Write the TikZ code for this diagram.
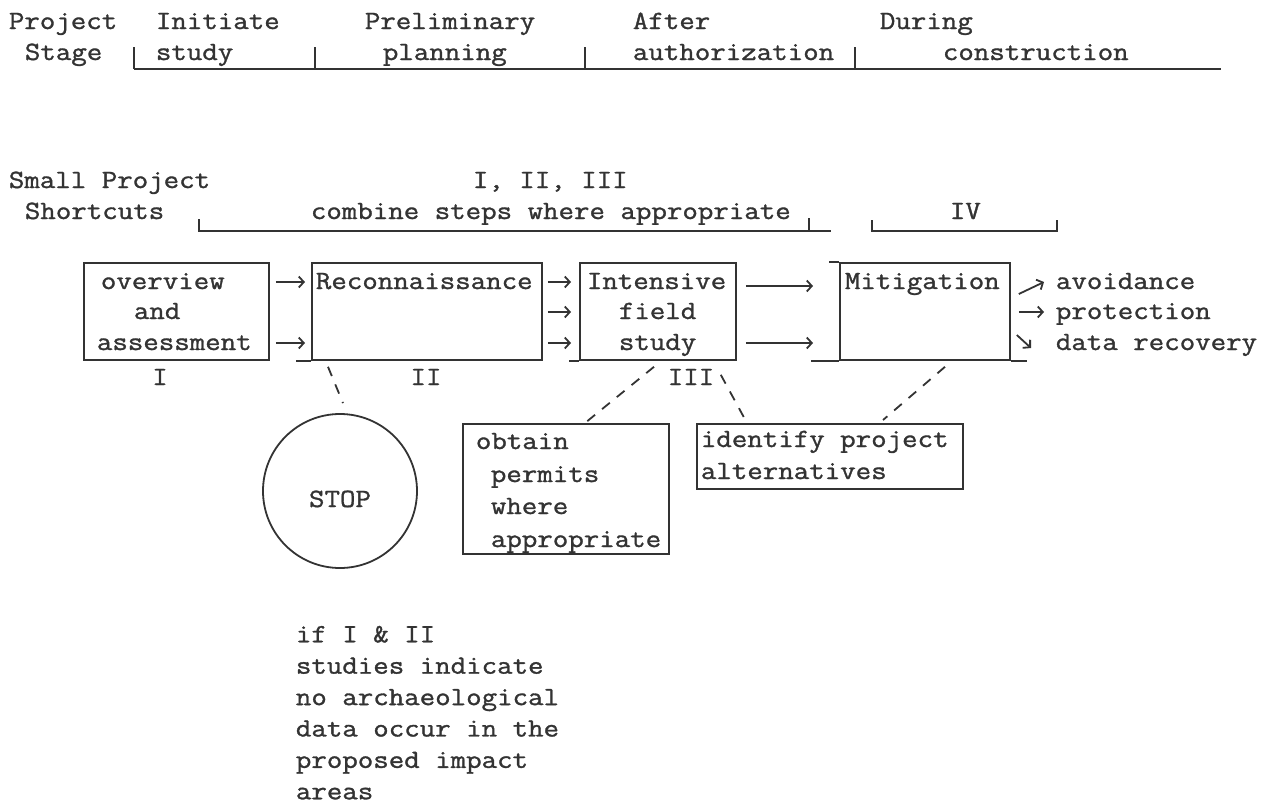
\documentclass[tikz,border=0pt]{standalone}
\usepackage{fontspec}
\setmainfont{Latin Modern Mono}[FakeStretch=1.143, FakeBold=1.2]
\usetikzlibrary{arrows.meta}
\usetikzlibrary{calc}
\definecolor{ink}{rgb}{0.2, 0.2, 0.2}
\tikzset{
  txt/.style={anchor=west, inner sep=0, text height=20pt, text depth=6pt,
    font=\fontsize{26.3}{31.4}\selectfont, text=ink},
  note/.style={anchor=north west, inner sep=0, align=left,
    font=\fontsize{26.3}{31.4}\selectfont, text=ink},
  box/.style={draw=ink, line width=1.8pt, inner sep=0, anchor=north west},
  dline/.style={draw=ink, line width=1.8pt, dash pattern=on 10pt off 9pt},
  arr/.style={draw=ink, line width=1.8pt, -{Straight Barb[length=5pt, width=11pt]}}
}

\begin{document}
\begin{tikzpicture}[x=1pt, y=-1pt, line width=1.8pt, draw=ink]
\useasboundingbox (0, 0) rectangle (1283, 806);
\node[txt] (proj) at (8, 22) {Project};
\node[txt] (stage) at (24, 53) {Stage};
\node[txt] (init) at (155, 22) {Initiate};
\node[txt] (study) at (155, 53) {study};
\node[txt] (prelim) at (364, 22) {Preliminary};
\node[txt] (plan) at (382, 53) {planning};
\node[txt] (after) at (632, 22) {After};
\node[txt] (auth) at (632, 53) {authorization};
\node[txt] (during) at (879, 22) {During};
\node[txt] (constr) at (942, 53) {construction};
\draw[ink] (134, 69) -- (1221, 69);
\draw[ink] (134, 47) -- (134, 69);
\draw[ink] (315, 47) -- (315, 69);
\draw[ink] (585, 47) -- (585, 69);
\draw[ink] (855, 47) -- (855, 69);

\node[txt] (small) at (8, 181) {Small Project};
\node[txt] (short) at (24, 212) {Shortcuts};
\node[txt] (roman) at (472, 181) {I, II, III};
\node[txt] (combine) at (310, 212) {combine steps where appropriate};
\node[txt] (four) at (949, 212) {IV};
\draw[ink] (199, 219) -- (199, 231) -- (831, 231);
\draw[ink] (809, 218) -- (809, 231);
\draw[ink] (872, 220) -- (872, 231) -- (1057, 231) -- (1057, 220);

\node[box, minimum width=185pt, minimum height=97pt] (boxI) at (83, 262) {};
\node[box, minimum width=230pt, minimum height=97pt] (boxII) at (311, 262) {};
\node[box, minimum width=156pt, minimum height=97pt] (boxIII) at (579, 262) {};
\node[box, minimum width=170pt, minimum height=97pt] (boxIV) at (839, 262) {};
\draw[ink] (boxII.south west) -- ++(-15, 0);
\draw[ink] (boxIII.south west) -- ++(-10, 0);
\draw[ink] (boxIV.south west) -- ++(-28, 0);
\draw[ink] (boxIV.south east) -- ++(16, 0);
\draw[ink] (boxIV.north west) -- ++(-10, 0);

\node[txt] (ovw) at (100, 282) {overview};
\node[txt] (and) at (133, 312) {and};
\node[txt] (assess) at (96, 343) {assessment};
\node[txt] (recon) at (315, 282) {Reconnaissance};
\node[txt] (inten) at (586, 282) {Intensive};
\node[txt] (field) at (618, 312) {field};
\node[txt] (stdy) at (618, 343) {study};
\node[txt] (mitig) at (844, 282) {Mitigation};
\node[txt, anchor=center] (lI) at (160, 378) {I};
\node[txt, anchor=center] (lII) at (426, 378) {II};
\node[txt, anchor=center] (lIII) at (691, 378) {III};

\draw[arr] ($(boxI.east |- ovw)+(6, 0)$) -- ($(boxII.west |- ovw)+(-6, 0)$);
\draw[arr] ($(boxI.east |- assess)+(6, 0)$) -- ($(boxII.west |- assess)+(-6, 0)$);
\draw[arr] ($(boxII.east |- recon)+(5, 0)$) -- ($(boxIII.west |- recon)+(-8, 0)$);
\draw[arr] ($(boxII.east |- field)+(5, 0)$) -- ($(boxIII.west |- field)+(-8, 0)$);
\draw[arr] ($(boxII.east |- stdy)+(5, 0)$) -- ($(boxIII.west |- stdy)+(-8, 0)$);
\draw[arr] ($(boxIII.east |- inten)+(9, 4)$) -- ($(boxIV.west |- inten)+(-26, 4)$);
\draw[arr] ($(boxIII.east |- stdy)+(9, 0)$) -- ($(boxIV.west |- stdy)+(-26, 0)$);

\node[txt] (avoid) at (1055, 282) {avoidance};
\node[txt] (protect) at (1055, 312) {protection};
\node[txt] (recov) at (1055, 343) {data recovery};
\draw[arr] ($(boxIV.east |- avoid)+(8, 12)$) -- ($(avoid.west)+(-11, 0)$);
\draw[arr] ($(boxIV.east |- protect)+(8, 0)$) -- ($(protect.west)+(-11, 0)$);
\draw[arr] ($(boxIV.east |- recov)+(6, -8)$) -- ($(recov.west)+(-24, 5)$);

\node[draw=ink, circle, minimum size=154pt, inner sep=0] (stop) at (340, 491) {};
\node[txt, anchor=center] (stoplbl) at (340, 500) {STOP};

\node[box, minimum width=206pt, minimum height=130pt] (permit) at (462, 423) {};
\node[txt] (obt) at (475, 442) {obtain};
\node[txt] (perm) at (490, 475) {permits};
\node[txt] (whr) at (490, 507) {where};
\node[txt] (appr) at (490, 540) {appropriate};

\node[box, minimum width=266pt, minimum height=65pt] (alt) at (696, 423) {};
\node[txt] (ident) at (700, 440) {identify project};
\node[txt] (alts) at (700, 472) {alternatives};

\draw[dline] ($(boxII.south west)+(17, 6)$) -- ($(stop.north)+(3, -10)$);
\draw[dline] ($(boxIII.south west)+(75, 6)$) -- (permit.north -| 585, 0);
\draw[dline] ($(boxIII.south east)+(-16, 14)$) -- (alt.north -| 747, 0);
\draw[dline] ($(boxIV.south west)+(106, 6)$) -- ($(alt.north -| 883, 0)+(0, -3)$);

\node[note] (cond) at (295, 625) {if I \& II\\studies indicate\\no archaeological\\data occur in the\\proposed impact\\areas};
\end{tikzpicture}
\end{document}
